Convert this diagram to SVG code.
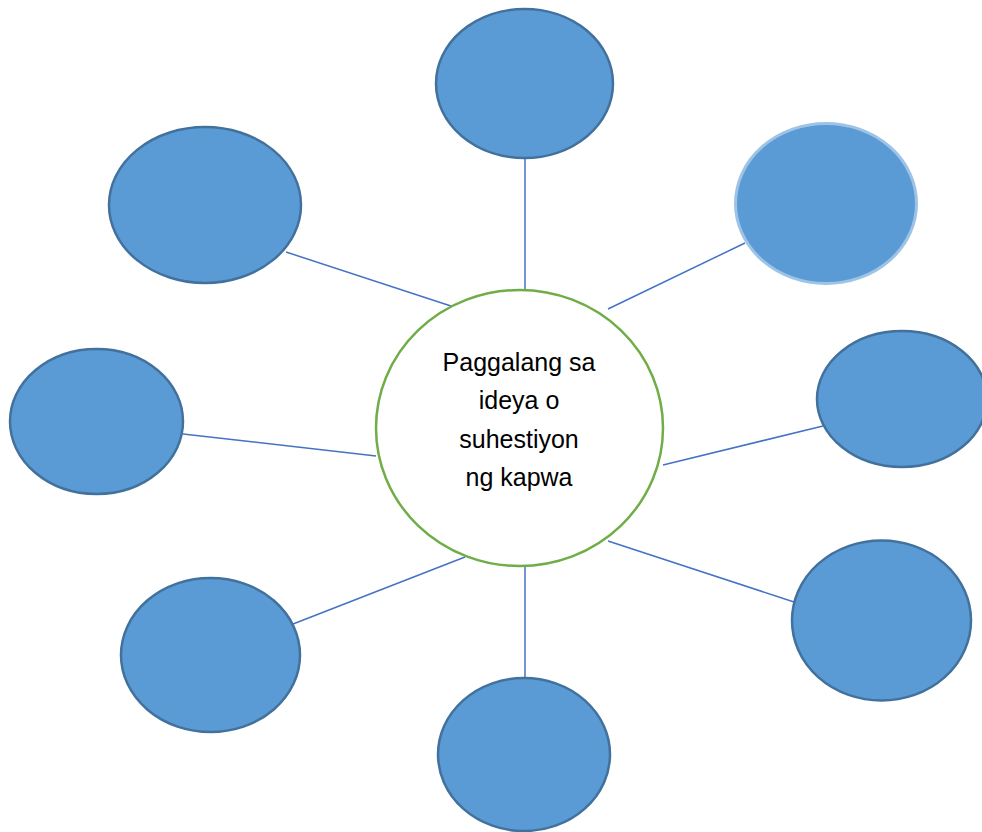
<svg xmlns="http://www.w3.org/2000/svg" width="982" height="832" viewBox="0 0 982 832">
<style>
.sat{fill:#5B9BD5;stroke:#41719C;stroke-width:2.5}
.sat-light{fill:#5B9BD5;stroke:#9DC3E6;stroke-width:3}
.hub{fill:#FFFFFF;stroke:#70AD47;stroke-width:2.5}
.conn{stroke:#4472C4;stroke-width:1.5;fill:none}
.label{font-family:"Liberation Sans",Arial,sans-serif;font-size:25px;fill:#000000;text-anchor:middle}
</style>
<rect width="982" height="832" fill="#FFFFFF"/>
<g id="connectors">
<line class="conn" x1="525" y1="158" x2="525" y2="290"/>
<line class="conn" x1="286" y1="252" x2="457" y2="308"/>
<line class="conn" x1="745" y1="243" x2="608" y2="309"/>
<line class="conn" x1="183" y1="434" x2="376" y2="456"/>
<line class="conn" x1="823" y1="426" x2="663" y2="465"/>
<line class="conn" x1="794" y1="602" x2="608" y2="541"/>
<line class="conn" x1="293" y1="624" x2="465" y2="557"/>
<line class="conn" x1="525" y1="563" x2="525" y2="678"/>
</g>
<g id="node-top"><ellipse class="sat" cx="524.5" cy="83.5" rx="88.5" ry="74.5"/></g>
<g id="node-upper-left"><ellipse class="sat" cx="205" cy="205" rx="96" ry="78"/></g>
<g id="node-upper-right"><ellipse class="sat-light" cx="826" cy="203.5" rx="90.5" ry="80"/></g>
<g id="node-left"><ellipse class="sat" cx="96.5" cy="421.5" rx="86.5" ry="72.5"/></g>
<g id="node-right"><ellipse class="sat" cx="902" cy="399" rx="85" ry="68"/></g>
<g id="node-lower-right"><ellipse class="sat" cx="881.5" cy="620.5" rx="89.5" ry="80"/></g>
<g id="node-lower-left"><ellipse class="sat" cx="210.5" cy="655" rx="89.5" ry="77"/></g>
<g id="node-bottom"><ellipse class="sat" cx="524" cy="754.5" rx="86" ry="76.5"/></g>
<g id="node-center">
<ellipse class="hub" cx="519.5" cy="428" rx="143.5" ry="138"/>
<text class="label" x="519" y="371">Paggalang sa</text>
<text class="label" x="519" y="409">ideya o</text>
<text class="label" x="519" y="448">suhestiyon</text>
<text class="label" x="519" y="486">ng kapwa</text>
</g>
</svg>
